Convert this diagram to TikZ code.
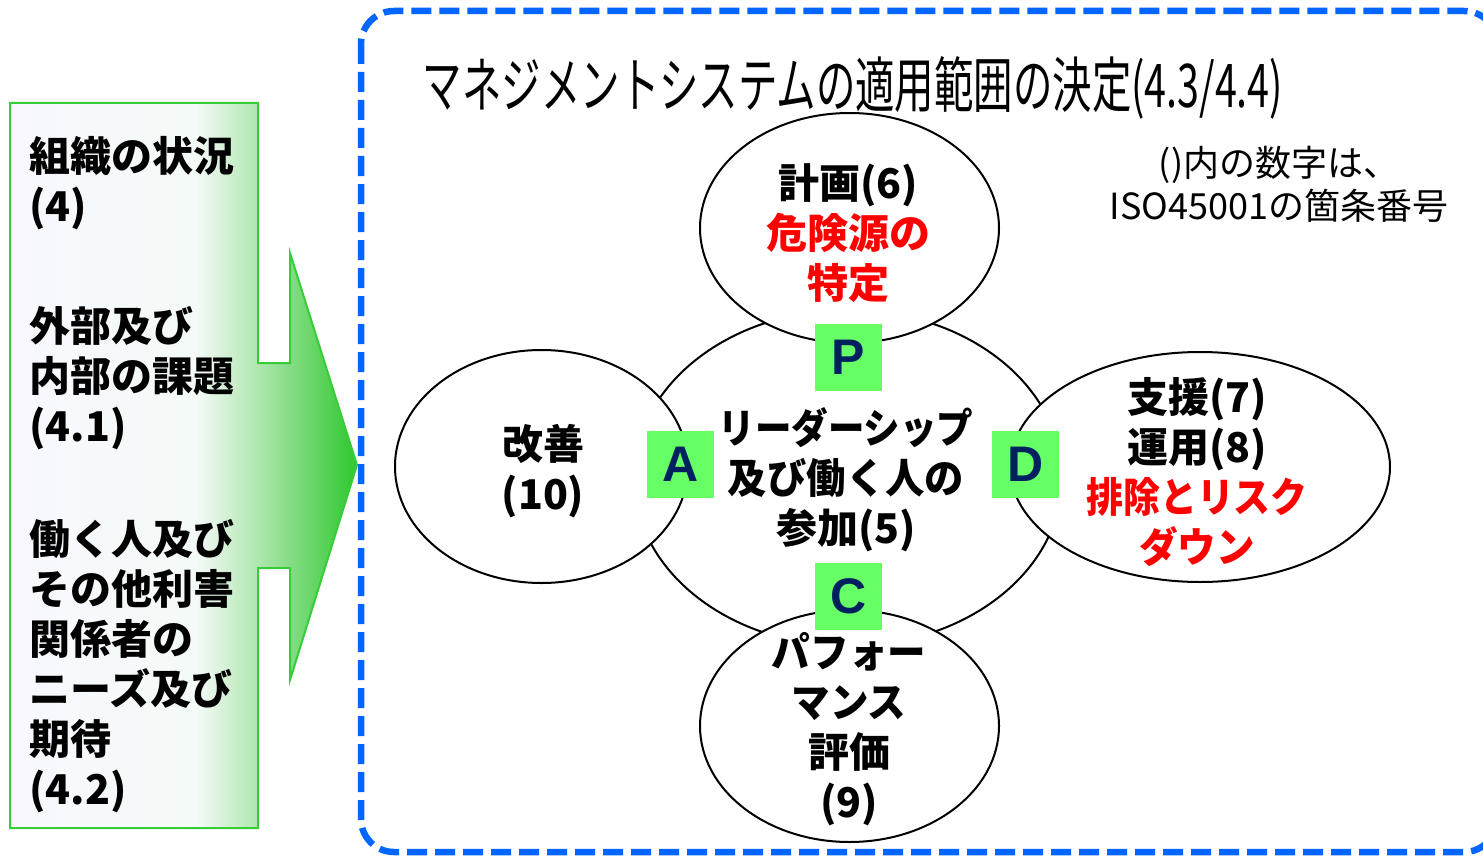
\documentclass[tikz,border=0pt]{standalone}
\usepackage{fontspec}
\usepackage{graphicx}
\usetikzlibrary{shapes.geometric}
\newfontfamily\jp{Noto Sans CJK JP}
\newfontfamily\lat{Liberation Sans}
\definecolor{sh0}{RGB}{248,248,255}
\definecolor{sh1}{RGB}{244,250,246}
\definecolor{sh2}{RGB}{172,230,172}
\definecolor{sh3}{RGB}{45,200,45}
\definecolor{arrowline}{RGB}{55,205,55}
\definecolor{dashblue}{RGB}{0,102,255}
\definecolor{pdcagreen}{RGB}{102,255,102}
\definecolor{pdcanavy}{RGB}{0,32,96}
\definecolor{hazred}{RGB}{255,0,0}
\pgfdeclarehorizontalshading{arrowshade}{100bp}{color(0bp)=(sh0); color(25bp)=(sh0); color(52bp)=(sh1); color(61bp)=(sh2); color(75bp)=(sh3); color(100bp)=(sh3)}
\newcommand{\narrow}[2]{\scalebox{#1}[1]{#2}}
\begin{document}
\begin{tikzpicture}[x=0.5pt,y=-0.5pt,
  ell/.style={draw=black, line width=1pt, fill=white, ellipse, inner sep=0pt},
  jtxt/.style={font=\jp\bfseries\fontsize{20.5pt}{25pt}\selectfont, align=center, inner sep=0pt},
  ltxt/.style={font=\jp\bfseries\fontsize{20.5pt}{25pt}\selectfont, align=left, inner sep=0pt, anchor=west},
  sq/.style={fill=pdcagreen, minimum size=33.5pt, inner sep=0pt, text=pdcanavy, font=\lat\bfseries\fontsize{25pt}{25pt}\selectfont},
  dashbox/.style={draw=dashblue, line width=3.25pt, dash pattern=on 10pt off 4pt, rounded corners=16.5pt},
  arrowbox/.style={draw=arrowline, line width=1pt, shading=arrowshade}
]
\useasboundingbox (0,0) rectangle (1483,856);
\clip (0,0) rectangle (1483,856);

% left block arrow
\path[arrowbox] (10,103) -- (258,103) -- (258,363) -- (290,363) -- (290,253) -- (357,465) -- (290,680) -- (290,568) -- (258,568) -- (258,828) -- (10,828) -- cycle;
\node[ltxt] (ctx1) at (29,183) {組織の状況\\(4)};
\node[ltxt] (ctx2) at (29,378) {外部及び\\内部の課題\\(4.1)};
\node[ltxt] (ctx3) at (29,666) {働く人及び\\その他利害\\関係者の\\ニーズ及び\\期待\\(4.2)};

% dashed scope box
\draw[dashbox] (361,11) rectangle (1497,852);

% title and note
\node[inner sep=0pt] (title) at (853,88) {\scalebox{0.68}[1.04]{\jp\fontsize{29pt}{29pt}\selectfont マネジメントシステムの適用範囲の決定(4.3/4.4)}};
\node[inner sep=0pt, align=center, font=\jp\fontsize{18pt}{21.5pt}\selectfont] (note) at (1279,184) {()内の数字は、\\ISO45001の箇条番号};

% ellipses
\node[ell, minimum width=214pt, minimum height=168pt] (cen) at (848,478) {};
\node[ell, minimum width=149.5pt, minimum height=115pt] (plan) at (849.5,228) {};
\node[ell, minimum width=149.5pt, minimum height=116pt] (check) at (849.5,726) {};
\node[ell, minimum width=146.5pt, minimum height=116.5pt] (act) at (541.5,466.5) {};
\node[ell, minimum width=190pt, minimum height=115pt] (do) at (1200,467) {};

% texts
\node[jtxt] (centext) at (846,480) {\narrow{0.89}{リーダーシップ}\\\narrow{0.96}{及び働く人の}\\参加(5)};
\node[jtxt] (plantext) at (848,233) {計画(6)\\\textcolor{hazred}{危険源の}\\\textcolor{hazred}{特定}};
\node[jtxt] (checktext) at (849,729) {\narrow{0.94}{パフォー}\\\narrow{0.94}{マンス}\\評価\\(9)};
\node[jtxt] (acttext) at (543,471) {改善\\(10)};
\node[jtxt] (dotext) at (1197,472) {支援(7)\\運用(8)\\\textcolor{hazred}{\narrow{0.9}{排除とリスク}}\\\textcolor{hazred}{\narrow{0.94}{ダウン}}};

% PDCA squares
\node[sq] (P) at (848.5,357.5) {P};
\node[sq] (A) at (680.5,464.5) {A};
\node[sq] (D) at (1025.5,464.5) {D};
\node[sq] (C) at (848.5,596.5) {C};
\end{tikzpicture}
\end{document}
